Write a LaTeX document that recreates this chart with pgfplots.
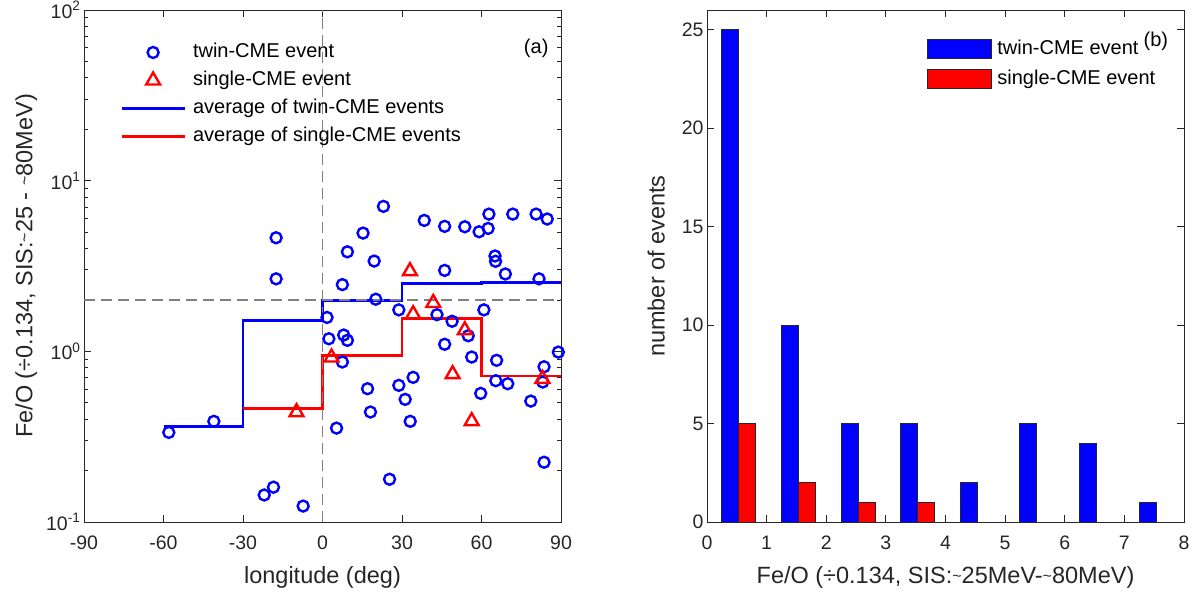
\documentclass[border=0pt]{standalone}
\usepackage{fontspec}
\setmainfont{Liberation Sans}
\usepackage{pgfplots}
\pgfplotsset{compat=1.18}
\definecolor{axgray}{RGB}{38,38,38}
\definecolor{mblue}{RGB}{0,0,255}
\definecolor{mred}{RGB}{255,0,0}
\definecolor{dashgray}{RGB}{128,128,128}
% narrow tilde, as in the reference labels
\newcommand{\tld}{\raisebox{2.5pt}{\fontsize{16}{16}\selectfont\textasciitilde}}

\pgfplotsset{
  matstyle/.style={
    scale only axis, width=477pt, height=512pt,
    axis line style={axgray, line width=0.9pt},
    every tick/.style={axgray, line width=0.9pt},
    major tick length=7pt, minor tick length=4pt,
    tick align=inside,
    ticklabel style={font=\fontsize{19.5}{21}\selectfont, text=axgray},
    xticklabel style={yshift=-10.5pt},
    label style={font=\fontsize{23.5}{26}\selectfont, text=axgray},
    xlabel style={yshift=-10pt},
    /pgf/number format/assume math mode=true,
  },
  matlegend/.style={
    legend cell align=left,
    legend style={draw=none, fill=none, inner sep=0pt,
      font=\fontsize{20}{22}\selectfont, row sep=10pt,
      nodes={inner sep=0pt, text height=14pt, text depth=4pt},
      /tikz/every odd column/.append style={column sep=7pt}},
  },
  markleg/.style={legend image code/.code={\draw[##1] plot coordinates {(31.5pt,0pt)};}},
  lineleg/.style={legend image code/.code={\draw[##1] (0pt,0pt) -- (63pt,0pt);}},
  boxleg/.style={legend image code/.code={\draw[##1] (0pt,-9.5pt) rectangle (64pt,9.5pt);}},
}

\begin{document}
\begin{tikzpicture}

%% (a) Fe/O against longitude
\begin{axis}[matstyle, matlegend,
    at={(84pt,76pt)}, anchor=south west,
    xmin=-90, xmax=90, ymode=log, ymin=0.1, ymax=100,
    xtick={-90,-60,-30,0,30,60,90},
    xticklabels={-90,-60,-30,0,30,60,90},
    ytick={0.1,1,10,100},
    yticklabels={10\textsuperscript{-1},10\textsuperscript{0},10\textsuperscript{1},10\textsuperscript{2}},
    xlabel={longitude (deg)},
    ylabel={Fe/O (÷0.134, SIS:\tld25 - \tld80MeV)},
    ylabel style={yshift=2pt},
    legend style={at={(0.0755,0.935)}, anchor=north west},
  ]
  \addplot[only marks, mark=o, mark size=5.5pt, mblue, line width=2.4pt, markleg]
    coordinates {
    (-58,0.335) (-41,0.389) (-17.5,4.63) (-17.5,2.66) (-22,0.144) (-18.5,0.160)
    (-7.3,0.124) (23,7.07) (15.3,4.93) (9.4,3.83) (19.5,3.38) (7.5,2.46)
    (20.1,2.02) (1.7,1.58) (2.4,1.185) (8,1.246) (9.4,1.16) (7.5,0.866)
    (5.3,0.355) (17,0.604) (18.1,0.441) (25.3,0.178) (28.8,0.632) (31.2,0.523)
    (33.1,0.389) (34.2,0.704) (28.8,1.75) (38.4,5.85) (46.1,5.40) (46.1,2.98)
    (43.2,1.64) (48.9,1.50) (46.1,1.10) (53.7,5.37) (59.1,5.02) (62.5,5.25)
    (62.8,6.37) (71.8,6.37) (80.6,6.37) (84.8,5.96) (65.1,3.62) (65.3,3.37)
    (69,2.84) (81.7,2.66) (60.9,1.75) (55,1.234) (56.3,0.926) (59.7,0.567)
    (65.7,0.886) (65.4,0.673) (69.9,0.646) (78.6,0.511) (83.6,0.812) (83.1,0.661)
    (89,0.99) (83.6,0.224)
  };
  \addlegendentry{twin-CME event}
  \addplot[only marks, mark=triangle, mark size=8pt, mred, line width=2.4pt, markleg]
    coordinates {
    (-9.8,0.440) (3.4,0.92) (33,2.95) (34.2,1.65) (41.8,1.92) (53.7,1.33)
    (49.1,0.735) (56.3,0.39) (83,0.69)
  };
  \addlegendentry{single-CME event}
  \addplot[const plot, mblue, line width=2.8pt, lineleg]
    coordinates {(-60,0.362) (-30,1.52) (0,1.98) (30,2.51) (60,2.54) (90,2.54)};
  \addlegendentry{average of twin-CME events}
  \addplot[const plot, mred, line width=2.8pt, lineleg]
    coordinates {(-30,0.464) (0,0.943) (30,1.55) (60,0.717) (90,0.717)};
  \addlegendentry{average of single-CME events}

  \draw[dashgray, line width=1.1pt, dash pattern=on 11pt off 6pt]
    (axis cs:0,0.1) -- (axis cs:0,100);
  \draw[dashgray, line width=1.1pt, dash pattern=on 11pt off 6pt]
    (axis cs:-90,2) -- (axis cs:90,2);
  \node[font=\fontsize{20}{22}\selectfont] at (rel axis cs:0.948,0.926) {(a)};
\end{axis}

%% (b) histogram of Fe/O
\begin{axis}[matstyle, matlegend, boxleg,
    at={(707pt,76pt)}, anchor=south west,
    xmin=0, xmax=8, ymin=0, ymax=26,
    xtick={0,1,2,3,4,5,6,7,8},
    ytick={0,5,10,15,20,25},
    xlabel={Fe/O (÷0.134, SIS:\tld25MeV-\tld80MeV)},
    ylabel={number of events},
    ylabel style={yshift=10pt},
    legend style={at={(0.46,0.943)}, anchor=north west,
      /tikz/every odd column/.append style={column sep=6pt}},
  ]
  \addplot[ybar, bar width=0.285, bar shift=0pt, fill=mblue, draw=axgray, line width=0.8pt]
    coordinates {(0.39,25) (1.39,10) (2.39,5) (3.39,5) (4.39,2) (5.39,5) (6.39,4) (7.39,1)};
  \addlegendentry{twin-CME event}
  \addplot[ybar, bar width=0.285, bar shift=0pt, fill=mred, draw=axgray, line width=0.8pt]
    coordinates {(0.675,5) (1.675,2) (2.675,1) (3.675,1) (4.675,0) (5.675,0) (6.675,0) (7.675,0)};
  \addlegendentry{single-CME event}
  \node[font=\fontsize{20}{22}\selectfont] at (rel axis cs:0.941,0.939) {(b)};
\end{axis}

\pgfresetboundingbox
\useasboundingbox (0pt,0pt) rectangle (1197pt,598pt);
\end{tikzpicture}
\end{document}
